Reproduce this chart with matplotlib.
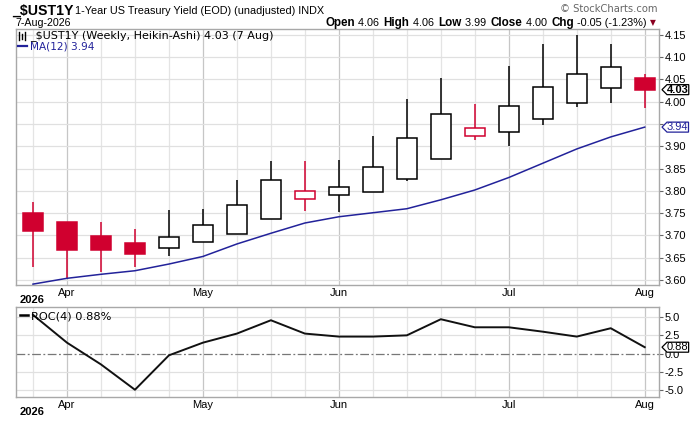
import numpy as np
import matplotlib
matplotlib.use('Agg')
import matplotlib.pyplot as plt
from matplotlib.path import Path
from matplotlib.lines import Line2D

# Weekly Heikin-Ashi candles for $UST1Y (Mar 30 .. Aug 3, 2026)
ha_open = [3.750, 3.730, 3.699, 3.683, 3.671, 3.685, 3.703, 3.737, 3.781, 3.790,
           3.798, 3.826, 3.871, 3.923, 3.932, 3.961, 3.997, 4.030, 4.053]
ha_close = [3.709, 3.668, 3.668, 3.659, 3.696, 3.724, 3.769, 3.825, 3.800, 3.809,
            3.853, 3.918, 3.972, 3.941, 3.990, 4.033, 4.062, 4.078, 4.027]
ha_high = [3.774, 3.730, 3.730, 3.715, 3.757, 3.760, 3.825, 3.866, 3.868, 3.869,
           3.923, 4.006, 4.054, 3.995, 4.081, 4.130, 4.150, 4.130, 4.062]
ha_low = [3.630, 3.604, 3.619, 3.630, 3.653, 3.685, 3.703, 3.737, 3.756, 3.753,
          3.798, 3.823, 3.871, 3.913, 3.900, 3.948, 3.987, 3.998, 3.985]
# colour rule: red when close below previous close
red_flag = [1, 1, 1, 1, 0, 0, 0, 0, 1, 0, 0, 0, 0, 1, 0, 0, 0, 0, 1]

ma12 = [3.591, 3.604, 3.613, 3.621, 3.636, 3.653, 3.681, 3.705, 3.728, 3.742,
        3.751, 3.760, 3.780, 3.802, 3.830, 3.862, 3.894, 3.921, 3.943]

roc4 = [5.3, 1.5, -1.47, -4.93, -0.23, 1.5, 2.74, 4.56, 2.74, 2.33,
        2.33, 2.5, 4.7, 3.6, 3.6, 3.0, 2.33, 3.47, 0.88]

month_idx = [1, 5, 9, 14, 18]
month_lbl = ['Apr', 'May', 'Jun', 'Jul', 'Aug']
price_ticks = [3.60, 3.65, 3.70, 3.75, 3.80, 3.85, 3.90, 3.95, 4.00, 4.05, 4.10, 4.15]
price_tick_lbl = ['3.60', '3.65', '3.70', '3.75', '3.80', '3.85', '3.90', '', '4.00',
                  '4.05', '4.10', '4.15']
roc_ticks = [-5.0, -2.5, 0.0, 2.5, 5.0]

RED = '#d0002f'
BLUE = '#22229a'
FRAME = '#a8a8a8'
TICKFONT = 'Liberation Sans'

plt.rcParams['font.family'] = ['DejaVu Sans']

fig = plt.figure(figsize=(7.0, 4.21), dpi=100)
ax = fig.add_axes([16 / 700, 1 - 285 / 421, (659 - 16) / 700, (285 - 29) / 421])
ax2 = fig.add_axes([16 / 700, 1 - 397 / 421, (659 - 16) / 700, (397 - 307) / 421])

x = np.arange(len(ha_open))


def tag_box(x0, y0, width, height, mutation_size):
    # box with a pointed left side, like the price tags at the right edge
    p = height * 0.5
    verts = [(x0 - p, y0 + height / 2), (x0, y0 + height), (x0 + width, y0 + height),
             (x0 + width, y0), (x0, y0), (x0 - p, y0 + height / 2)]
    return Path(verts, [Path.MOVETO] + [Path.LINETO] * 4 + [Path.CLOSEPOLY])


TAG_X = (667 - 16) / 643

for a in (ax, ax2):
    a.set_xlim(-0.5, 18.42)
    for i in x:
        col = '#c6c6c6' if i in month_idx else '#e4e4e4'
        a.axvline(i, color=col, lw=0.9, zorder=0)
    for s in a.spines.values():
        s.set_color(FRAME)
        s.set_linewidth(1.0)
    a.yaxis.tick_right()
    a.tick_params(axis='y', direction='out', length=3, width=0.8, color='#666666',
                  labelsize=8, pad=1)
    a.tick_params(axis='x', length=0, labelsize=8, pad=2)
    a.set_xticks(month_idx)
    a.set_xticklabels(month_lbl, fontfamily=TICKFONT)

# --- price panel
ax.set_ylim(3.589, 4.163)
ax.set_yticks(price_ticks)
ax.set_yticklabels(price_tick_lbl, fontfamily=TICKFONT)
for t in price_ticks:
    ax.axhline(t, color='#e0e0e0', lw=0.9, zorder=0)

body_w = 0.58
for i in x:
    o, c, h, l = ha_open[i], ha_close[i], ha_high[i], ha_low[i]
    lo, hi = min(o, c), max(o, c)
    col = RED if red_flag[i] else 'black'
    filled = red_flag[i] and c < o
    ax.vlines(i, l, lo, color=col, lw=1.1, zorder=2)
    ax.vlines(i, hi, h, color=col, lw=1.1, zorder=2)
    ax.bar(i, hi - lo, bottom=lo, width=body_w, color=col if filled else 'white',
           edgecolor=col, linewidth=1.1, zorder=3)

ax.plot(x, ma12, color=BLUE, lw=1.1, zorder=4)

ax.text(TAG_X, ha_close[-1], '4.03', transform=ax.get_yaxis_transform(), ha='left',
        va='center', fontsize=8, fontweight='bold', fontfamily=TICKFONT, zorder=6,
        bbox=dict(boxstyle=tag_box, fc='white', ec='black', lw=0.9, pad=0.12),
        clip_on=False)
ax.text(TAG_X, ma12[-1], '3.94', transform=ax.get_yaxis_transform(), ha='left',
        va='center', fontsize=8, color=BLUE, fontfamily=TICKFONT, zorder=6,
        bbox=dict(boxstyle=tag_box, fc='white', ec=BLUE, lw=0.9, pad=0.12),
        clip_on=False)

fig.text(30 / 700, 1 - 36 / 421, '_$UST1Y (Weekly, Heikin-Ashi) 4.03 (7 Aug)',
         fontsize=8.0, va='center', ha='left')
fig.text(30 / 700, 1 - 46.5 / 421, 'MA(12) 3.94', fontsize=7.6, va='center',
         ha='left', color=BLUE)
fig.add_artist(Line2D([18 / 700, 27 / 700], [1 - 46 / 421, 1 - 46 / 421], color=BLUE, lw=1.6))
# tiny candle icon
for dx, y0, y1 in [(19, 32, 40), (22, 34, 39), (25, 32, 40)]:
    fig.add_artist(Line2D([dx / 700, dx / 700], [1 - y1 / 421, 1 - y0 / 421], color='black', lw=1.0))

# --- ROC panel
ax2.set_ylim(-5.92, 6.37)
ax2.set_yticks(roc_ticks)
ax2.set_yticklabels(['-5.0', '-2.5', '0.0', '2.5', '5.0'], fontfamily=TICKFONT)
for t in roc_ticks:
    if t != 0:
        ax2.axhline(t, color='#e0e0e0', lw=0.9, zorder=0)
ax2.axhline(0, color='#777777', lw=0.9, ls=(0, (7, 2, 1.5, 2)), zorder=1)
ax2.plot(x, roc4, color='#111111', lw=1.4, zorder=3)
ax2.text(TAG_X, roc4[-1], '0.88', transform=ax2.get_yaxis_transform(), ha='left',
         va='center', fontsize=8, fontfamily=TICKFONT, zorder=6,
         bbox=dict(boxstyle=tag_box, fc='white', ec='black', lw=0.9, pad=0.12),
         clip_on=False)
ax2.text(0.024, 0.955, 'ROC(4) 0.88%', transform=ax2.transAxes, fontsize=8.2, va='top',
         ha='left')
fig.add_artist(Line2D([20 / 700, 28 / 700], [1 - 315 / 421, 1 - 315 / 421], color='black', lw=1.8))

# year labels
fig.text(20 / 700, 1 - 300 / 421, '2026', fontsize=8, fontweight='bold', va='center',
         fontfamily=TICKFONT)
fig.text(20 / 700, 1 - 412 / 421, '2026', fontsize=8, fontweight='bold', va='center',
         fontfamily=TICKFONT)

# --- header
fig.text(12 / 700, 1 - 11 / 421, '_$UST1Y', fontsize=10.2, fontweight='bold', va='center',
         fontfamily=TICKFONT)
fig.text(75 / 700, 1 - 11 / 421, '1-Year US Treasury Yield (EOD) (unadjusted) INDX',
         fontsize=7.8, va='center', fontfamily=TICKFONT)
fig.text(15 / 700, 1 - 23 / 421, '7-Aug-2026', fontsize=7.7, va='center', fontfamily=TICKFONT)
fig.text(658 / 700, 1 - 9 / 421, '\u00a9 StockCharts.com', fontsize=7.2, va='center',
         ha='right', color='#666666')

parts = [('Open', True), (' 4.06 ', False), ('High', True), (' 4.06 ', False),
         ('Low', True), (' 3.99 ', False), ('Close', True), (' 4.00 ', False),
         ('Chg', True), (' -0.05 (-1.23%)', False)]
fig.canvas.draw()
renderer = fig.canvas.get_renderer()
xpos = 325
for txt, bold in parts:
    t = fig.text(xpos / 700, 1 - 23 / 421, txt, fontsize=8.4 if bold else 7.8,
                 fontweight='bold' if bold else 'normal', va='center',
                 fontfamily=TICKFONT)
    xpos += t.get_window_extent(renderer).width + (2 if not bold else 0)
fig.text(xpos / 700 + 1 / 700, 1 - 23 / 421, '\u25bc', fontsize=5.5, color='#8a0020',
         va='center')

fig.savefig('out.png', dpi=100)
